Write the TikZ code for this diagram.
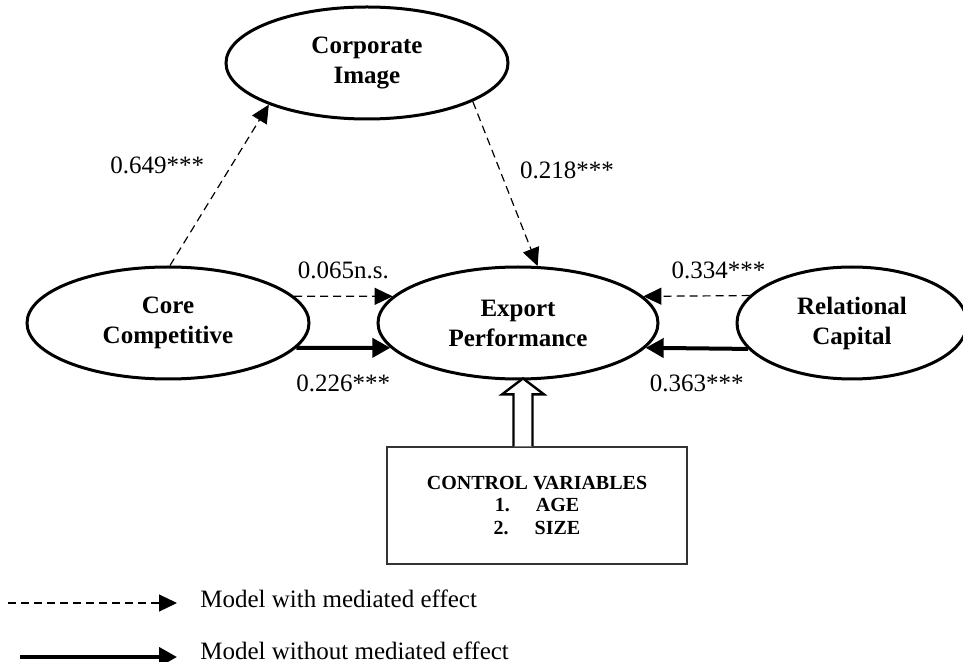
\documentclass[tikz,border=0pt]{standalone}
\usepackage{fontspec}
\setmainfont{Liberation Serif}
\usetikzlibrary{shapes.geometric,arrows.meta,positioning}

\begin{document}
\begin{tikzpicture}[x=0.5pt,y=-0.5pt,
	latent/.style={ellipse,draw,line width=1.5pt,inner sep=0pt,minimum height=56pt,align=center,font=\fontsize{12.5}{15}\selectfont\bfseries},
	med/.style={dash pattern=on 4pt off 2.5pt,line width=0.6pt,-{Triangle[length=9pt,width=8.5pt]}},
	direct/.style={line width=2pt,-{Triangle[length=9pt,width=9.5pt]}},
	hollow/.style={line width=1.2pt,fill=white},
	lab/.style={font=\fontsize{12.5}{15}\selectfont}]
	\useasboundingbox (0,0) rectangle (963,662);
	% constructs
	\node[latent,minimum width=141pt] (corp) at (367,63) {Corporate\\Image};
	\node[latent,minimum width=141pt] (core) at (168,323) {Core\\Competitive};
	\node[latent,minimum width=140pt] (export) at (518,323) {Export\\Performance};
	\node[latent,minimum width=115pt] (rel) at (852,323) {Relational\\Capital};
	\node[draw,black!80,line width=0.6pt,minimum width=150pt,minimum height=58.5pt,align=center,
		text=black,font=\fontsize{10}{11.3}\selectfont\bfseries] (ctrl) at (537,505.5)
		{CONTROL VARIABLES\\1.\hspace{13pt}AGE\\2.\hspace{13pt}SIZE};
	% paths
	\draw[med] (core.88) -- (corp.203) node[lab,pos=0.62,xshift=-37pt] {0.649***};
	\draw[med] (corp.340) -- (export.71) node[lab,pos=0.42,xshift=33.5pt] {0.218***};
	\draw[med] (core.12) -- (export.168) node[lab,midway,above=5pt] {0.065n.s.};
	\draw[direct] (core.-11) -- (export.-169) node[lab,midway,below=9pt] {0.226***};
	\draw[med] (rel.165.5) -- (export.12) node[lab,midway,above=5pt,xshift=11pt] {0.334***};
	\draw[direct] (rel.-166.7) -- (export.-11) node[lab,midway,below=9pt] {0.363***};
	% control arrow
	\coordinate (hb) at ([xshift=2.5pt]export.south |- ctrl.north);
	\draw[hollow] (hb) ++(-9.5,0) -- ++(0,-52) -- ++(-11.5,0) -- ++(21,-16) -- ++(21,16)
		-- ++(-11.5,0) -- ++(0,52);
	% legend
	\coordinate (m0) at (8,603);
	\coordinate (m1) at (177,603);
	\coordinate (d0) at (20,657);
	\coordinate (d1) at (177,657);
	\draw[med] (m0) -- (m1);
	\draw[direct] (d0) -- (d1);
	\node[lab,anchor=base west,inner sep=0pt] (legmed) at (200,607) {Model with mediated effect};
	\node[lab,anchor=base west,inner sep=0pt] (legdir) at (200,659) {Model without mediated effect};
\end{tikzpicture}
\end{document}
